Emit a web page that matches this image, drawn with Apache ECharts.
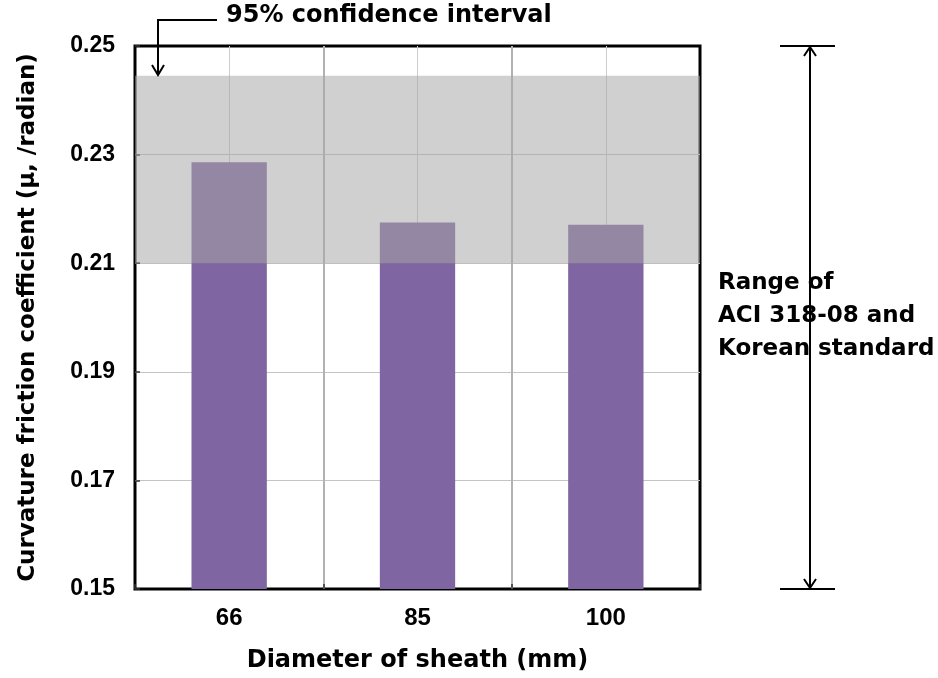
<!DOCTYPE html>
<html><head><meta charset="utf-8">
<script src="https://cdn.jsdelivr.net/npm/echarts@6/dist/echarts.min.js"></script>
<style>html,body{margin:0;padding:0;background:#fff}#c{width:938px;height:678px}</style>
</head><body><div id="c"></div>
<script>
// ---- data ----
const categories = ['66', '85', '100'];
const friction = [0.2286, 0.2175, 0.2171];
const confidenceBand = [0.21, 0.2445];
const standardRange = [0.15, 0.25];
const yMin = 0.15, yMax = 0.25, yStep = 0.02;
const xTitle = 'Diameter of sheath (mm)';
const yTitle = 'Curvature friction coefficient (\u03bc, /radian)';
const bandLabel = '95% confidence interval';
const rangeLabel = 'Range of\nACI 318-08 and\nKorean standard';

const TITLE_FONT = '"DejaVu Sans", "Noto Sans", sans-serif';
const TICK_FONT = '"Liberation Sans", Arial, sans-serif';

const chart = echarts.init(document.getElementById('c'), null, {renderer: 'canvas'});
const option = {
  animation: false,
  backgroundColor: '#fff',
  grid: {left: 135, right: 238, top: 46, bottom: 88, show: true,
         borderColor: '#000', borderWidth: 3, backgroundColor: 'transparent'},
  xAxis: [
    {type: 'category', data: categories, boundaryGap: true,
     axisLine: {show: false},
     axisTick: {show: true, inside: true, length: 5, lineStyle: {color: '#333', width: 1.5}},
     axisLabel: {fontFamily: TICK_FONT, fontWeight: 'bold', fontSize: 24, color: '#000', margin: 17},
     splitLine: {show: true, showMinLine: false, showMaxLine: false, lineStyle: {color: '#b2b2b2', width: 2}},
     name: xTitle, nameLocation: 'middle', nameGap: 60,
     nameTextStyle: {fontFamily: TITLE_FONT, fontWeight: 'bold', fontSize: 24, color: '#000'}},
    {type: 'value', min: 0, max: 6, interval: 1, show: true,
     axisLine: {show: false}, axisTick: {show: false}, axisLabel: {show: false},
     splitLine: {show: true, showMinLine: false, showMaxLine: false,
                 lineStyle: {color: ['#cdcdcd', 'rgba(0,0,0,0)'], width: 1}}}
  ],
  yAxis: {type: 'value', min: yMin, max: yMax, interval: yStep,
    axisLine: {show: false},
    axisTick: {show: true, inside: true, length: 5, lineStyle: {color: '#333', width: 1.5}},
    axisLabel: {fontFamily: TICK_FONT, fontWeight: 'bold', fontSize: 23, color: '#000', margin: 20,
                formatter: v => v.toFixed(2)},
    splitLine: {show: true, showMinLine: false, showMaxLine: false, lineStyle: {color: '#c4c4c4', width: 1}},
    name: yTitle, nameLocation: 'middle', nameGap: 95, nameRotate: 90,
    nameTextStyle: {fontFamily: TITLE_FONT, fontWeight: 'bold', fontSize: 23, color: '#000'}},
  series: [
    {type: 'bar', xAxisIndex: 0, data: friction, barWidth: '40%', z: 2,
     itemStyle: {color: '#7f65a1'}, silent: true},
    {type: 'custom', xAxisIndex: 0, z: 3, silent: true,
     data: [[0, confidenceBand[0], confidenceBand[1]]],
     encode: {x: 0, y: [1, 2]},
     renderItem: function (params, api) {
       const cs = params.coordSys;
       const yTop = api.coord([0, api.value(2)])[1];
       const yBot = api.coord([0, api.value(1)])[1];
       return {type: 'rect', shape: {x: cs.x, y: yTop, width: cs.width, height: yBot - yTop},
               style: {fill: 'rgba(166,166,166,0.53)'}};
     }}
  ]
};
chart.setOption(option);

const yTopPx = chart.convertToPixel({yAxisIndex: 0}, standardRange[1]);
const yBotPx = chart.convertToPixel({yAxisIndex: 0}, standardRange[0]);
const ax = 810;
const stroke = {stroke: '#000', lineWidth: 2, fill: null};
chart.setOption({
  graphic: [
    // top annotation
    {type: 'polyline', shape: {points: [[217, 20], [158, 20], [158, 74]]}, style: stroke, z: 10},
    {type: 'polyline', shape: {points: [[152, 65], [158, 75], [164, 65]]}, style: stroke, z: 10},
    {type: 'text', left: 226, top: 4, z: 10,
     style: {text: bandLabel, font: 'bold 24px ' + TITLE_FONT, fill: '#000'}},
    // range double arrow
    {type: 'line', shape: {x1: 780, y1: yTopPx, x2: 835, y2: yTopPx}, style: stroke, z: 10},
    {type: 'line', shape: {x1: 780, y1: yBotPx, x2: 835, y2: yBotPx}, style: stroke, z: 10},
    {type: 'line', shape: {x1: ax, y1: yTopPx + 1, x2: ax, y2: yBotPx - 1}, style: stroke, z: 10},
    {type: 'polyline', shape: {points: [[ax - 6, yTopPx + 10], [ax, yTopPx + 1], [ax + 6, yTopPx + 10]]}, style: stroke, z: 10},
    {type: 'polyline', shape: {points: [[ax - 6, yBotPx - 10], [ax, yBotPx - 1], [ax + 6, yBotPx - 10]]}, style: stroke, z: 10},
    {type: 'text', left: 718, top: 267, z: 11,
     style: {text: rangeLabel, font: 'bold 23px ' + TITLE_FONT, fill: '#000', lineHeight: 33}}
  ]
});
</script></body></html>
